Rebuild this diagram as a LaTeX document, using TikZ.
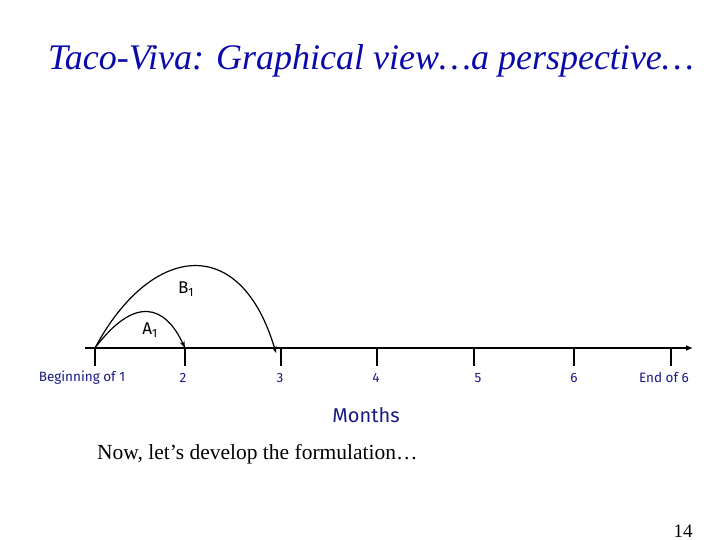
\documentclass[tikz,border=0pt]{standalone}
\usepackage{fontspec}
\setmainfont{Liberation Serif}
\newfontfamily\axisfont{Fira Sans}
\usetikzlibrary{arrows.meta,positioning}
\definecolor{titleblue}{RGB}{10,10,170}
\definecolor{labelnavy}{RGB}{25,25,130}

\begin{document}
\begin{tikzpicture}[x=1pt,y=-1pt,
    axislabel/.style={text=labelnavy, font=\axisfont\fontsize{13.5}{15}\selectfont},
    arclabel/.style={font=\axisfont\fontsize{17}{19}\selectfont},
    jump/.style={line width=1.2pt, -{Stealth[length=7pt,width=5pt]}}]
    \useasboundingbox (0,0) rectangle (720,540);

    \node[anchor=base, text=titleblue, font=\itshape\fontsize{36}{42}\selectfont] (title) at (371,70) {Taco-Viva: Graphical view\ldots a perspective\ldots};

    % time line
    \coordinate (start) at (85,348);
    \coordinate (end) at (693,348);
    \draw[line width=1.6pt, -{Latex[length=7pt,width=6pt]}] (start) -- (end);
    \foreach \x/\n/\lx/\txt in {95/1/82/Beginning of 1, 185/2/183/2, 281/3/280/3, 377/4/376/4, 474/5/478/5, 574/6/574/6, 671/7/664/End of 6} {
        \coordinate (t\n) at (\x,348);
        \draw[line width=1.6pt] (t\n) -- ++(0,18);
        \node[axislabel] (lab\n) at (\lx,378) {\txt};
    }

    % jumps
    \draw[jump] (t1) .. controls (135,295) and (165,305) .. (t2);
    \draw[jump] (t1) .. controls (150,245) and (240,231) .. ([xshift=-5pt,yshift=-5pt]t3);
    \node[arclabel] (a1) at (150,330) {A\textsubscript{1}};
    \node[arclabel] (b1) at (186,289) {B\textsubscript{1}};

    \node[text=labelnavy, font=\axisfont\fontsize{20}{22}\selectfont] (months) at (366,415) {Months};
    \node[anchor=base west, font=\fontsize{21.5}{24}\selectfont, inner sep=0pt] (next) at (97,459) {Now, let’s develop the formulation\ldots};
    \node[anchor=base, font=\fontsize{19}{22}\selectfont] (page) at (683,537) {14};
\end{tikzpicture}
\end{document}
